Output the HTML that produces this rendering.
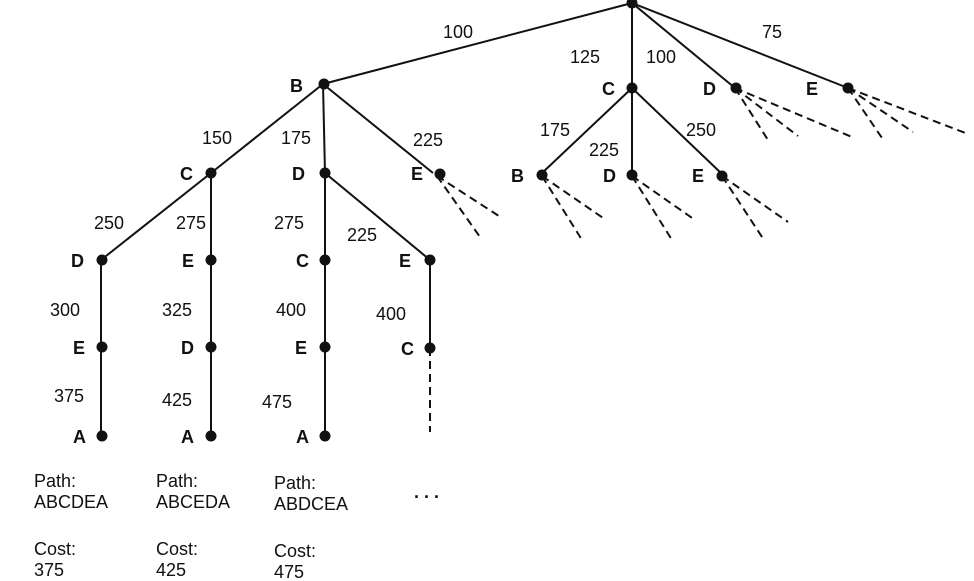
<!DOCTYPE html>
<html><head><style>
html,body{margin:0;padding:0;background:#fff;}
svg{display:block;}
text{font-family:"Liberation Sans",Arial,sans-serif;font-size:18px;fill:#111;}
.b{font-weight:bold;}
</style></head><body>
<svg width="974" height="581" viewBox="0 0 974 581">
<g stroke="#111" stroke-width="2" fill="none">
<line x1="632" y1="3" x2="323" y2="84"/>
<line x1="632" y1="3" x2="632" y2="88"/>
<line x1="632" y1="3" x2="735" y2="88"/>
<line x1="632" y1="3" x2="848" y2="88"/>
<line x1="323" y1="84" x2="211" y2="173"/>
<line x1="323" y1="84" x2="325" y2="173"/>
<line x1="323" y1="84" x2="433" y2="173"/>
<line x1="632" y1="88" x2="541" y2="174"/>
<line x1="632" y1="88" x2="632" y2="174"/>
<line x1="632" y1="88" x2="722" y2="174"/>
<line x1="211" y1="173" x2="101" y2="260"/>
<line x1="211" y1="173" x2="211" y2="436"/>
<line x1="325" y1="173" x2="325" y2="436"/>
<line x1="325" y1="173" x2="430" y2="260"/>
<line x1="430" y1="260" x2="430" y2="348"/>
<line x1="101" y1="260" x2="101" y2="436"/>
</g>
<g stroke="#111" stroke-width="2" stroke-dasharray="8,5" fill="none">
<line x1="430" y1="348" x2="430" y2="432"/>
<line x1="735" y1="88" x2="768" y2="140"/>
<line x1="735" y1="88" x2="798" y2="136"/>
<line x1="735" y1="88" x2="852" y2="137"/>
<line x1="848" y1="88" x2="882" y2="138"/>
<line x1="848" y1="88" x2="913" y2="132"/>
<line x1="848" y1="88" x2="968" y2="134"/>
<line x1="437" y1="176" x2="480" y2="237"/>
<line x1="437" y1="176" x2="502" y2="218"/>
<line x1="542" y1="176" x2="582" y2="240"/>
<line x1="542" y1="176" x2="606" y2="220"/>
<line x1="632" y1="176" x2="672" y2="240"/>
<line x1="632" y1="176" x2="695" y2="220"/>
<line x1="722" y1="176" x2="764" y2="240"/>
<line x1="722" y1="176" x2="788" y2="222"/>
</g>
<g fill="#111">
<circle cx="632" cy="3" r="5.5"/>
<circle cx="324" cy="84" r="5.5"/><circle cx="632" cy="88" r="5.5"/><circle cx="736" cy="88" r="5.5"/><circle cx="848" cy="88" r="5.5"/>
<circle cx="211" cy="173" r="5.5"/><circle cx="325" cy="173" r="5.5"/><circle cx="440" cy="174" r="5.5"/>
<circle cx="542" cy="175" r="5.5"/><circle cx="632" cy="175" r="5.5"/><circle cx="722" cy="176" r="5.5"/>
<circle cx="102" cy="260" r="5.5"/><circle cx="211" cy="260" r="5.5"/><circle cx="325" cy="260" r="5.5"/><circle cx="430" cy="260" r="5.5"/>
<circle cx="102" cy="347" r="5.5"/><circle cx="211" cy="347" r="5.5"/><circle cx="325" cy="347" r="5.5"/><circle cx="430" cy="348" r="5.5"/>
<circle cx="102" cy="436" r="5.5"/><circle cx="211" cy="436" r="5.5"/><circle cx="325" cy="436" r="5.5"/>
</g>
<g class="b">
<text x="290" y="92" class="b">B</text>
<text x="602" y="95" class="b">C</text>
<text x="703" y="95" class="b">D</text>
<text x="806" y="95" class="b">E</text>
<text x="180" y="180" class="b">C</text>
<text x="292" y="180" class="b">D</text>
<text x="411" y="180" class="b">E</text>
<text x="511" y="182" class="b">B</text>
<text x="603" y="182" class="b">D</text>
<text x="692" y="182" class="b">E</text>
<text x="71" y="267" class="b">D</text>
<text x="182" y="267" class="b">E</text>
<text x="296" y="267" class="b">C</text>
<text x="399" y="267" class="b">E</text>
<text x="73" y="354" class="b">E</text>
<text x="181" y="354" class="b">D</text>
<text x="295" y="354" class="b">E</text>
<text x="401" y="355" class="b">C</text>
<text x="73" y="443" class="b">A</text>
<text x="181" y="443" class="b">A</text>
<text x="296" y="443" class="b">A</text>
</g>
<text x="443" y="38">100</text>
<text x="570" y="63">125</text>
<text x="646" y="63">100</text>
<text x="762" y="38">75</text>
<text x="202" y="144">150</text>
<text x="281" y="144">175</text>
<text x="413" y="146">225</text>
<text x="540" y="136">175</text>
<text x="589" y="156">225</text>
<text x="686" y="136">250</text>
<text x="94" y="229">250</text>
<text x="176" y="229">275</text>
<text x="274" y="229">275</text>
<text x="347" y="241">225</text>
<text x="50" y="316">300</text>
<text x="162" y="316">325</text>
<text x="276" y="316">400</text>
<text x="376" y="320">400</text>
<text x="54" y="402">375</text>
<text x="162" y="406">425</text>
<text x="262" y="408">475</text>
<text x="34" y="487">Path:</text><text x="34" y="508">ABCDEA</text>
<text x="156" y="487">Path:</text><text x="156" y="508">ABCEDA</text>
<text x="274" y="489">Path:</text><text x="274" y="510">ABDCEA</text>
<text x="414" y="498" class="b">. . .</text>
<text x="34" y="555">Cost:</text><text x="34" y="576">375</text>
<text x="156" y="555">Cost:</text><text x="156" y="576">425</text>
<text x="274" y="557">Cost:</text><text x="274" y="578">475</text>
</svg>
</body></html>
